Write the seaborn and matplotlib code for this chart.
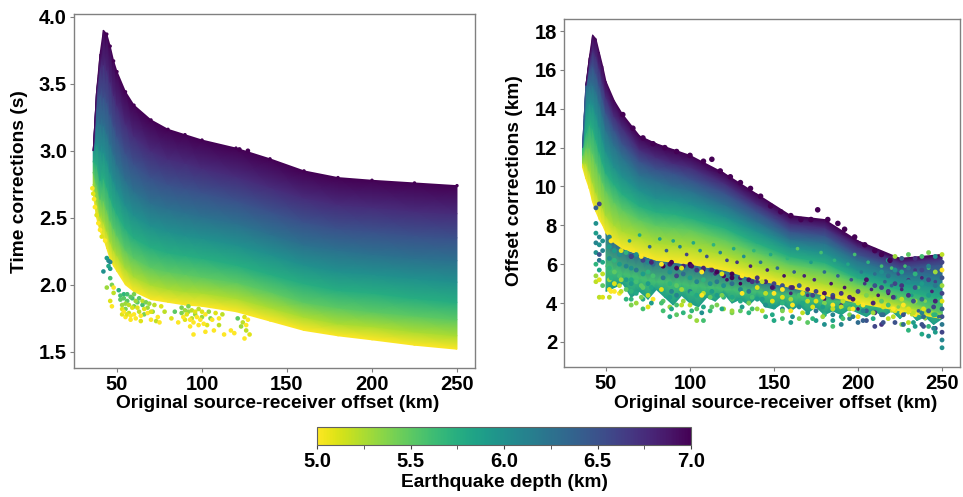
#!/usr/bin/env python3
"""
Time and offset corrections against source-receiver offset, coloured by depth
"""
import numpy as np
import pandas as pd
import seaborn as sns
import matplotlib.pyplot as plt
from matplotlib.cm import ScalarMappable
from matplotlib.colors import Normalize

depths = [5.0, 5.25, 5.5, 5.75, 6.0, 6.25, 6.5, 6.75, 7.0]
offsets = [36, 38, 40, 42, 44, 46, 48, 50, 55, 60, 70, 80, 90, 100, 120, 140, 160, 180, 200, 225, 250]

# one row per depth
time_rows = [
    [2.68, 2.50, 2.40, 2.35, 2.27, 2.19, 2.14, 2.10, 2.00, 1.95, 1.89, 1.87, 1.85, 1.84, 1.80, 1.73, 1.66, 1.62, 1.59, 1.55, 1.52],
    [2.75, 2.62, 2.51, 2.47, 2.40, 2.32, 2.26, 2.22, 2.12, 2.06, 2.00, 1.97, 1.95, 1.94, 1.90, 1.83, 1.76, 1.71, 1.69, 1.65, 1.62],
    [2.84, 2.75, 2.64, 2.63, 2.56, 2.48, 2.42, 2.37, 2.26, 2.20, 2.13, 2.10, 2.08, 2.06, 2.02, 1.95, 1.87, 1.83, 1.80, 1.77, 1.74],
    [2.92, 2.90, 2.78, 2.80, 2.73, 2.65, 2.58, 2.53, 2.42, 2.35, 2.28, 2.24, 2.22, 2.20, 2.15, 2.08, 2.01, 1.96, 1.94, 1.90, 1.87],
    [3.00, 3.05, 3.00, 2.99, 2.93, 2.84, 2.77, 2.71, 2.59, 2.52, 2.44, 2.40, 2.37, 2.35, 2.30, 2.23, 2.15, 2.10, 2.08, 2.05, 2.02],
    [3.00, 3.22, 3.20, 3.19, 3.13, 3.05, 2.97, 2.90, 2.78, 2.70, 2.61, 2.57, 2.54, 2.51, 2.46, 2.38, 2.30, 2.26, 2.23, 2.20, 2.18],
    [3.00, 3.38, 3.42, 3.40, 3.36, 3.27, 3.18, 3.11, 2.98, 2.90, 2.80, 2.75, 2.72, 2.69, 2.63, 2.55, 2.47, 2.42, 2.40, 2.37, 2.35],
    [3.00, 3.45, 3.62, 3.64, 3.60, 3.51, 3.41, 3.34, 3.20, 3.11, 3.00, 2.94, 2.91, 2.87, 2.81, 2.73, 2.65, 2.60, 2.58, 2.55, 2.53],
    [3.00, 3.45, 3.72, 3.90, 3.87, 3.78, 3.67, 3.59, 3.44, 3.34, 3.23, 3.16, 3.12, 3.08, 3.02, 2.94, 2.85, 2.80, 2.78, 2.76, 2.74],
]

# same layout, right panel
offset_rows = [
    [11.0, 10.4, 9.9, 9.2, 8.7, 8.3, 8.0, 7.6, 7.1, 6.8, 6.5, 6.2, 6.1, 6.0, 5.7, 5.2, 4.8, 4.4, 4.0, 3.6, 3.2],
    [11.2, 11.2, 10.8, 10.2, 9.7, 9.3, 8.9, 8.5, 8.0, 7.7, 7.4, 7.1, 7.0, 6.9, 6.5, 5.9, 5.4, 5.0, 4.5, 3.9, 3.3],
    [11.6, 12.0, 12.0, 11.7, 11.2, 10.7, 10.2, 9.8, 9.2, 8.8, 8.3, 8.0, 7.9, 7.8, 7.3, 6.6, 6.0, 5.7, 5.0, 4.3, 3.5],
    [12.0, 12.8, 13.2, 13.0, 12.4, 11.8, 11.2, 10.7, 10.1, 9.6, 9.0, 8.7, 8.6, 8.4, 7.9, 7.1, 6.4, 6.1, 5.3, 4.7, 4.2],
    [12.0, 14.0, 14.3, 14.2, 13.7, 13.1, 12.4, 11.8, 11.0, 10.5, 9.8, 9.4, 9.3, 9.1, 8.5, 7.7, 6.9, 6.6, 5.7, 5.1, 4.8],
    [12.0, 15.0, 15.2, 15.2, 14.9, 14.3, 13.6, 12.9, 12.1, 11.5, 10.6, 10.3, 10.0, 9.8, 9.1, 8.2, 7.3, 7.1, 6.2, 5.5, 5.4],
    [12.0, 15.2, 16.0, 16.2, 15.8, 15.2, 14.5, 13.8, 12.9, 12.2, 11.3, 10.9, 10.7, 10.4, 9.7, 8.7, 7.7, 7.5, 6.5, 5.8, 6.0],
    [12.0, 15.2, 16.4, 17.0, 16.7, 16.1, 15.3, 14.6, 13.6, 13.0, 11.9, 11.5, 11.2, 11.0, 10.2, 9.1, 8.1, 7.9, 6.9, 6.1, 6.3],
    [12.0, 15.2, 16.6, 17.8, 17.6, 16.9, 16.2, 15.4, 14.4, 13.7, 12.6, 12.2, 11.9, 11.6, 10.7, 9.6, 8.5, 8.3, 7.2, 6.3, 6.5],
]

# mottled band under the main cloud in the right panel
under_depths = [5.9, 5.6, 6.3]
under_offsets = [50, 55, 60, 65, 70, 75, 80, 85, 90, 95, 100, 105, 110, 115, 120, 125, 130, 135, 140, 145, 150,
                 155, 160, 165, 170, 175, 180, 185, 190, 195, 200, 205, 210, 215, 220, 225, 230, 235, 240, 245, 250]
under_rows = [
    [4.6, 4.8, 5.0, 4.3, 4.6, 4.2, 4.7, 4.3, 3.9, 4.4, 4.0, 3.8, 4.3, 4.1, 4.5, 4.0, 4.2, 3.9, 4.3, 3.8, 3.7,
     4.0, 3.6, 3.9, 3.5, 3.8, 3.4, 3.6, 3.4, 3.7, 3.5, 3.3, 3.6, 3.3, 3.6, 3.2, 3.6, 3.1, 3.3, 2.9, 3.2],
    [5.9, 5.7, 5.5, 5.4, 5.3, 5.2, 5.1, 5.1, 5.0, 5.0, 4.9, 4.9, 4.8, 4.8, 4.7, 4.7, 4.6, 4.6, 4.6, 4.5, 4.5,
     4.4, 4.4, 4.3, 4.3, 4.2, 4.2, 4.1, 4.1, 4.0, 4.0, 4.0, 3.9, 3.9, 3.9, 3.8, 3.8, 3.8, 3.8, 3.8, 3.8],
    [7.6, 7.1, 6.8, 6.6, 6.5, 6.3, 6.2, 6.2, 6.1, 6.0, 6.0, 5.9, 5.8, 5.8, 5.7, 5.6, 5.5, 5.4, 5.2, 5.1, 5.0,
     4.9, 4.9, 4.8, 4.7, 4.7, 4.5, 4.4, 4.3, 4.2, 4.1, 4.1, 4.0, 4.0, 4.0, 4.0, 4.0, 4.0, 4.0, 4.0, 4.0],
]

# scattered points around the left cloud
stray_x = [35.5, 36, 36.5, 37, 38, 39, 40, 41, 43, 44, 45, 45, 46, 46, 42, 46, 47, 48, 48, 44, 46, 47, 51, 52, 53, 53, 54, 55, 55, 56, 57, 58,
           59, 60, 61, 62, 63, 64, 65, 66, 68, 70, 71, 73, 75, 78, 82, 84, 86, 88, 90, 92, 93, 94, 95, 96, 98, 100, 102, 103, 105, 107, 110, 113, 117, 121, 123, 125, 126, 128, 119, 122, 127,
           52, 53, 54, 54, 55, 56, 56, 57, 58, 58, 59, 60, 60, 61, 62, 63, 64, 65, 66, 67, 68, 69, 70, 72, 74, 76,
           88, 89, 90, 91, 92, 93, 94, 95, 96, 97, 98, 99, 100, 101, 102, 104, 106, 108, 110, 112, 124, 125, 126, 127]
stray_y = [2.72, 2.68, 2.64, 2.58, 2.52, 2.46, 2.41, 2.36, 2.33, 2.2, 2.18, 2.14, 2.17, 2.12, 2.1, 2.05, 2.0, 1.98, 1.94, 1.98, 1.88, 1.84, 1.96, 1.89, 1.85, 1.78, 1.93, 1.82, 1.76, 1.88, 1.79, 1.74,
           1.9, 1.84, 1.75, 1.87, 1.8, 1.73, 1.85, 1.78, 1.83, 1.74, 1.8, 1.73, 1.72, 1.8, 1.75, 1.8, 1.72, 1.79, 1.74, 1.8, 1.69, 1.75, 1.63, 1.78, 1.7, 1.76, 1.65, 1.7, 1.75, 1.66, 1.7, 1.63, 1.66, 1.75, 1.69, 1.6, 1.66, 1.63, 1.64, 3.01, 3.0,
           1.92, 1.82, 1.9, 1.8, 1.86, 1.93, 1.78, 1.85, 1.91, 1.77, 1.83, 1.93, 1.78, 1.88, 1.83, 1.9, 1.77, 1.88, 1.82, 1.87, 1.79, 1.86, 1.8, 1.85, 1.76, 1.84,
           1.83, 1.76, 1.81, 1.78, 1.84, 1.74, 1.81, 1.72, 1.8, 1.76, 1.82, 1.74, 1.8, 1.71, 1.78, 1.8, 1.74, 1.79, 1.75, 1.78, 1.72, 1.76, 1.7, 1.74]
stray_d = [5.0, 5.1, 5.0, 5.0, 5.1, 5.0, 5.0, 5.1, 5.0, 5.9, 6.0, 5.8, 6.1, 5.9, 6.0, 5.6, 5.4, 5.0, 5.2, 5.3, 5.1, 5.0, 5.7, 5.5, 5.3, 5.1, 5.7, 5.4, 5.0, 5.5, 5.2, 5.0,
           5.6, 5.4, 5.0, 5.5, 5.2, 5.1, 5.6, 5.4, 5.3, 5.0, 5.3, 5.2, 5.0, 5.2, 5.1, 5.5, 5.0, 5.4, 5.1, 5.3, 5.0, 5.2, 5.0, 5.3, 5.0, 5.3, 5.0, 5.1, 5.4, 5.0, 5.2, 5.0, 5.0, 5.5, 5.3, 5.0, 5.2, 5.1, 5.0, 7.0, 7.0,
           5.6, 5.1, 5.5, 5.0, 5.3, 5.6, 5.1, 5.2, 5.5, 5.0, 5.1, 5.4, 5.0, 5.3, 5.1, 5.5, 5.0, 5.2, 5.1, 5.4, 5.0, 5.3, 5.1, 5.2, 5.0, 5.1,
           5.4, 5.0, 5.3, 5.1, 5.4, 5.0, 5.2, 5.0, 5.1, 5.0, 5.2, 5.0, 5.1, 5.0, 5.0, 5.3, 5.0, 5.1, 5.0, 5.2, 5.2, 5.1, 5.0, 5.0]

# columns of points in the lower right cloud, one list of values per offset
cloud_x = [44, 46, 48, 52, 55, 58, 62, 65, 68, 72, 75, 78, 84, 88, 92, 96, 100, 104, 108, 112, 116, 120, 125, 130, 135, 140, 145, 150, 155, 160, 165,
           170, 175, 180, 185, 190, 195, 200, 205, 210, 214, 218, 222, 226, 230, 234, 238, 242, 246, 250]
cloud_y = [
    [8.9, 8.1, 7.6, 7.1, 6.6, 6.0, 5.4, 5.1],
    [9.1, 7.4, 7.0, 6.5, 6.2, 5.7, 5.2, 4.3],
    [7.2, 6.7, 6.1, 5.5, 4.9, 4.3],
    [7.4, 6.9, 6.3, 5.8, 5.2, 4.7, 4.3],
    [6.7, 6.2, 5.6, 5.0, 4.6],
    [6.5, 6.0, 5.4, 4.9, 4.5],
    [6.6, 5.9, 5.2, 4.7, 4.2],
    [6.4, 5.8, 5.2, 4.6, 3.9],
    [6.5, 5.7, 5.1, 4.5, 4.0],
    [6.2, 5.5, 4.8, 4.2, 3.7],
    [6.1, 5.6, 5.0, 4.4, 3.8],
    [6.0, 5.4, 4.7, 4.2],
    [5.9, 5.3, 4.6, 4.1, 3.6],
    [6.0, 5.6, 5.0, 4.3, 3.8, 3.3],
    [5.8, 5.4, 4.9, 4.4, 3.9, 3.4],
    [5.9, 5.5, 4.7, 4.1, 3.5],
    [6.0, 5.3, 4.6, 3.9, 3.3],
    [5.7, 5.1, 4.4, 3.7, 3.1],
    [5.8, 5.2, 4.5, 3.8, 3.1],
    [5.7, 5.0, 4.3, 3.6],
    [5.6, 5.1, 4.4, 3.9],
    [5.4, 4.9, 4.3, 3.7],
    [5.5, 5.0, 4.2, 3.5],
    [5.3, 4.7, 4.1, 3.6],
    [5.2, 4.6, 4.0, 3.5],
    [5.3, 4.8, 4.2, 3.7],
    [5.1, 4.5, 3.9, 3.3],
    [5.0, 4.5, 3.8, 3.1],
    [4.9, 4.3, 3.7, 3.2],
    [4.8, 4.2, 3.6, 3.0],
    [4.9, 4.4, 3.8, 3.2],
    [4.7, 4.1, 3.5, 3.0],
    [4.6, 4.1, 3.6, 3.1],
    [4.5, 4.0, 3.4, 2.9],
    [4.4, 3.9, 3.4, 2.8],
    [4.5, 3.8, 3.3, 2.9],
    [4.3, 3.7, 3.2, 3.4],
    [4.6, 4.0, 3.3, 3.0],
    [5.2, 4.4, 3.6, 3.1],
    [4.9, 4.2, 3.5, 2.8],
    [5.6, 4.8, 4.1, 3.4, 2.9],
    [6.2, 5.4, 4.6, 3.9, 3.2],
    [6.4, 5.7, 5.0, 4.3, 3.6, 3.0],
    [6.3, 5.6, 4.9, 4.2, 3.5, 2.9],
    [6.5, 5.8, 5.1, 4.4, 3.7, 3.0, 2.6],
    [6.3, 5.5, 4.8, 4.1, 3.4, 2.8],
    [6.4, 5.7, 5.0, 4.2, 3.5, 2.9, 2.4],
    [6.6, 5.9, 5.2, 4.4, 3.6, 2.8, 2.3],
    [6.4, 5.6, 4.9, 4.1, 3.4, 2.7, 2.5],
    [6.5, 6.1, 5.7, 5.3, 4.9, 4.5, 4.1, 3.7, 3.3, 2.9, 2.5, 2.1, 1.7],
]
cloud_d = [
    [6.4, 6.0, 5.9, 6.1, 6.0, 5.7, 5.3, 5.2],
    [6.6, 6.1, 6.0, 6.5, 6.2, 5.8, 5.1, 5.2],
    [6.0, 6.1, 5.8, 5.2, 5.5, 5.1],
    [6.1, 5.9, 6.0, 5.7, 5.3, 5.0, 5.2],
    [5.9, 5.7, 5.5, 5.1, 5.0],
    [6.0, 5.9, 5.6, 5.2, 5.0],
    [5.7, 6.1, 5.9, 5.5, 5.7],
    [6.7, 6.0, 5.8, 5.7, 5.4],
    [6.0, 6.2, 5.6, 5.8, 5.3],
    [6.6, 5.9, 5.5, 5.8, 5.6],
    [6.1, 5.7, 5.9, 5.2, 5.1],
    [6.3, 5.6, 5.9, 5.0],
    [7.0, 6.2, 5.8, 5.5, 5.6],
    [6.9, 6.0, 5.7, 5.9, 5.3, 5.8],
    [7.0, 6.6, 5.5, 6.1, 5.6, 5.5],
    [6.8, 6.3, 5.6, 5.3, 5.7],
    [7.0, 5.9, 6.1, 5.2, 5.4],
    [6.7, 6.1, 5.8, 5.5, 5.3],
    [6.8, 5.7, 5.2, 5.8, 5.6],
    [6.4, 6.0, 5.5, 5.7],
    [7.0, 6.2, 5.9, 5.4],
    [6.9, 6.0, 5.7, 5.3],
    [7.0, 6.3, 5.6, 5.4],
    [6.8, 6.1, 5.8, 5.5],
    [6.9, 6.2, 5.4, 5.7],
    [6.7, 5.1, 5.9, 5.3],
    [6.8, 5.2, 6.0, 5.7],
    [6.6, 5.0, 5.9, 5.8],
    [6.5, 5.1, 6.1, 5.6],
    [6.7, 5.3, 5.0, 5.9],
    [6.4, 5.6, 6.0, 5.4],
    [6.8, 5.2, 5.9, 5.5],
    [6.6, 5.1, 6.2, 5.9],
    [6.9, 5.4, 5.7, 6.0],
    [6.5, 5.0, 6.1, 5.6],
    [6.7, 5.2, 5.9, 6.1],
    [6.8, 5.3, 6.2, 5.4],
    [6.6, 5.1, 5.0, 6.3],
    [6.9, 5.4, 6.4, 6.5],
    [6.5, 5.2, 6.7, 6.6],
    [6.0, 6.6, 5.5, 6.3, 6.7],
    [5.9, 6.3, 6.7, 5.6, 5.2],
    [5.3, 6.0, 6.6, 5.7, 5.1, 6.5],
    [6.4, 5.8, 6.7, 5.2, 5.0, 5.4],
    [5.5, 6.3, 6.0, 6.7, 5.1, 5.2, 5.7],
    [6.7, 5.7, 6.5, 5.3, 5.0, 5.9],
    [5.6, 6.6, 5.9, 6.3, 6.1, 6.5, 5.8],
    [5.4, 6.1, 6.6, 5.9, 6.4, 5.7, 6.0],
    [6.0, 5.3, 6.2, 6.8, 5.7, 6.5, 5.9],
    [5.2, 6.6, 5.0, 6.5, 5.3, 6.6, 5.1, 6.4, 6.5, 6.2, 6.6, 6.1, 6.0],
]

# three more rows of points along the lower part of the right panel cloud
fringe_x = [53, 59, 65, 71, 77, 83, 89, 95, 101, 107, 113, 119, 125, 131, 137, 143, 149, 155, 161, 167, 173, 179, 185, 191, 197, 203, 209, 215, 221, 227, 233, 239, 245]
fringe_y = [
    [7.2, 6.7, 6.4, 6.4, 6.1, 6.0, 6.1, 5.8, 5.9, 5.6, 5.7, 5.5, 5.3, 5.4, 5.1, 5.1, 4.8, 4.7, 4.8, 4.5, 4.4, 4.3, 4.3, 4.1, 4.2, 3.9, 4.0, 3.8, 4.3, 3.9, 4.1, 3.7, 3.8],
    [5.3, 5.2, 5.0, 4.9, 4.8, 4.7, 4.6, 4.7, 4.5, 4.4, 4.6, 4.4, 4.3, 4.5, 4.3, 4.2, 4.1, 4.0, 3.9, 4.0, 3.8, 3.8, 3.7, 3.6, 3.7, 3.6, 3.5, 3.4, 3.7, 3.4, 3.5, 3.3, 3.4],
    [4.6, 4.6, 4.2, 4.3, 4.0, 4.0, 3.7, 3.9, 3.6, 3.5, 3.8, 3.7, 3.6, 3.8, 3.7, 3.6, 3.4, 3.6, 3.3, 3.5, 3.2, 3.3, 3.1, 3.2, 3.3, 3.1, 3.2, 3.0, 3.3, 2.9, 3.0, 2.8, 2.7],
]
fringe_d = [
    [5.0, 5.1, 6.6, 5.0, 6.8, 5.0, 7.0, 5.1, 6.9, 5.0, 6.8, 5.1, 7.0, 5.0, 6.7, 5.2, 6.9, 5.0, 6.8, 5.1, 6.6, 5.0, 6.7, 5.2, 6.9, 5.0, 6.8, 5.1, 6.7, 5.0, 6.5, 5.1, 6.6],
    [5.7, 5.3, 5.9, 5.5, 5.8, 5.1, 6.1, 5.3, 5.7, 5.0, 5.9, 5.4, 5.8, 5.0, 5.6, 5.9, 5.1, 5.7, 5.0, 5.8, 5.1, 5.9, 5.2, 5.8, 5.0, 6.1, 5.3, 6.3, 5.0, 6.5, 5.2, 6.3, 5.7],
    [5.0, 5.2, 5.7, 5.4, 5.9, 5.6, 5.8, 5.2, 5.7, 6.0, 5.5, 5.8, 5.3, 5.9, 5.6, 5.2, 5.8, 5.4, 6.0, 5.2, 5.7, 5.3, 5.9, 5.6, 6.2, 6.4, 5.8, 6.5, 5.2, 6.3, 5.9, 6.5, 6.1],
]

# finer speckle inside the right panel cloud
speck_x = [64, 70, 76, 82, 86, 90, 94, 98, 102, 106, 110, 114, 118, 122, 126, 128, 132, 136, 138, 142, 146, 148, 152, 156, 158, 162, 164, 168, 172, 174, 178,
           180, 184, 186, 188, 192, 194, 196, 198, 200, 202, 204, 206, 208, 210, 212, 214, 216, 218, 220, 220, 222, 224, 224, 226, 228, 228, 230, 232, 232, 234, 236, 236, 238, 240, 240, 242, 244, 244, 246, 248, 248,
           100, 108, 115, 122, 130, 140, 150, 160, 170, 180, 190, 200, 210, 220, 230, 240]
speck_y = [7.2, 7.5, 6.9, 7.3, 6.7, 7.2, 6.9, 6.5, 7.1, 6.7, 6.4, 7.0, 6.6, 6.2, 6.8, 6.1, 6.4, 5.9, 6.7, 6.1, 5.7, 6.5, 5.8, 5.4, 6.3, 5.6, 6.8, 5.4, 6.1, 5.2, 6.6,
           5.6, 5.0, 6.2, 5.4, 4.8, 6.0, 5.2, 6.5, 4.6, 5.6, 5.0, 6.1, 4.7, 5.5, 4.4, 5.9, 5.1, 4.5, 5.8, 4.9, 4.3, 5.5, 3.8, 4.7, 5.9, 3.9, 5.2, 4.4, 3.4, 5.7, 4.8, 3.6, 5.3, 4.1, 3.2, 5.8, 4.6, 3.5, 5.1, 4.2, 3.3,
           5.9, 5.7, 5.5, 5.2, 5.0, 5.1, 4.8, 4.5, 4.4, 4.2, 3.9, 3.7, 3.5, 3.6, 3.5, 3.2]
speck_d = [5.9, 5.8, 6.3, 5.9, 6.4, 5.8, 6.1, 6.6, 5.8, 6.0, 6.5, 5.7, 6.1, 6.6, 5.8, 6.7, 6.0, 6.8, 5.7, 6.2, 6.8, 5.8, 6.3, 6.9, 5.7, 6.4, 5.5, 6.8, 5.9, 6.8, 5.6,
           6.3, 6.9, 5.7, 6.4, 6.9, 5.8, 6.5, 5.6, 6.9, 6.2, 6.7, 5.7, 6.8, 6.3, 6.9, 5.6, 6.4, 6.9, 5.6, 6.4, 6.9, 6.6, 5.4, 6.8, 5.6, 5.3, 6.7, 5.9, 5.2, 6.7, 5.6, 6.4, 6.8, 5.4, 6.1, 5.6, 6.8, 5.3, 6.6, 5.7, 6.3,
           6.9, 7.0, 6.8, 6.9, 7.0, 6.7, 6.6, 6.8, 6.7, 6.9, 6.8, 6.9, 6.5, 5.2, 5.1, 5.3]

# bumps on the upper edge of the right panel cloud
edge_x = [60, 66, 72, 78, 85, 92, 100, 108, 113, 118, 124, 130, 136, 142, 148, 154, 160, 166, 172, 176, 182, 188, 192, 198, 204, 210, 214, 219]
edge_y = [13.7, 13.0, 12.5, 12.2, 12.0, 11.8, 11.6, 11.3, 11.4, 10.8, 10.5, 10.2, 9.9, 9.5, 9.0, 8.7, 8.5, 8.3, 8.3, 8.8, 8.3, 8.1, 7.8, 7.4, 7.0, 6.7, 6.5, 6.2]

FONT = ['Liberation Sans', 'DejaVu Sans']
CMAP = 'viridis_r'
SPINE = '#808080'
LABEL_SIZE = 13.8
TICK_SIZE = 14.5


def draw_cloud(ax, xs, table, levels, norm, zorder=1):
    X = np.tile(xs, (len(levels), 1))
    C = np.tile(np.array(levels)[:, None], (1, len(xs)))
    ax.pcolormesh(X, np.array(table), C, shading='gouraud', cmap=CMAP, norm=norm, zorder=zorder)


def draw_points(ax, x, y, d, size, zorder=3):
    df = pd.DataFrame({'x': x, 'y': y, 'depth': d})
    sns.scatterplot(data=df, x='x', y='y', hue='depth', hue_norm=(5, 7), palette=CMAP,
                    s=size, linewidth=0, legend=False, ax=ax, zorder=zorder)


def style_axes(ax, ylabel, xlim, ylim):
    ax.set_xlim(xlim)
    ax.set_ylim(ylim)
    ax.set_xticks([50, 100, 150, 200, 250])
    ax.set_xlabel('Original source-receiver offset (km)', fontsize=LABEL_SIZE, fontweight='bold')
    ax.set_ylabel(ylabel, fontsize=LABEL_SIZE, fontweight='bold')
    ax.tick_params(axis='both', labelsize=TICK_SIZE, length=3, color=SPINE, labelcolor='black', pad=2, bottom=True, left=True)
    for label in ax.get_xticklabels() + ax.get_yticklabels():
        label.set_fontweight('bold')
    for spine in ax.spines.values():
        spine.set_color(SPINE)
        spine.set_linewidth(1.0)


sns.set_style('white')
plt.rcParams['font.family'] = FONT
plt.rcParams['text.color'] = 'black'
plt.rcParams['axes.labelcolor'] = 'black'

norm = Normalize(5, 7)
W, H = 963, 497
fig = plt.figure(figsize=(W / 100, H / 100), dpi=100)
ax1 = fig.add_axes([74 / W, (H - 368) / H, 401 / W, 354 / H])
ax2 = fig.add_axes([564 / W, (H - 367) / H, 396 / W, 348 / H])
cax = fig.add_axes([317 / W, (H - 445) / H, 374 / W, 18 / H])

draw_cloud(ax1, offsets, time_rows, depths, norm)
draw_points(ax1, stray_x, stray_y, stray_d, 11)
draw_points(ax1, offsets[4:], time_rows[-1][4:], [7.0] * len(offsets[4:]), 6)
style_axes(ax1, 'Time corrections (s)', (24.7, 260.6), (1.38, 4.02))
ax1.set_yticks([1.5, 2.0, 2.5, 3.0, 3.5, 4.0])
ax1.xaxis.set_label_coords(0.5075, -0.076)
ax1.yaxis.set_label_coords(-0.115, 0.528)

cloud_xs = [x for x, col in zip(cloud_x, cloud_y) for _ in col] + fringe_x * len(fringe_y)
cloud_ys = [v for col in cloud_y for v in col] + [v for row in fringe_y for v in row]
cloud_ds = [v for col in cloud_d for v in col] + [v for row in fringe_d for v in row]

draw_cloud(ax2, under_offsets, under_rows, under_depths, norm, zorder=1)
draw_cloud(ax2, offsets, offset_rows, depths, norm, zorder=2)
draw_points(ax2, speck_x, speck_y, speck_d, 7)
draw_points(ax2, cloud_xs, cloud_ys, cloud_ds, 12)
draw_points(ax2, edge_x, edge_y, [7.0] * len(edge_x), 16)
style_axes(ax2, 'Offset corrections (km)', (25, 260.7), (0.71, 18.62))
ax2.set_yticks([2, 4, 6, 8, 10, 12, 14, 16, 18])
ax2.xaxis.set_label_coords(0.535, -0.08)
ax2.yaxis.set_label_coords(-0.104, 0.537)

cb = fig.colorbar(ScalarMappable(norm=norm, cmap=CMAP), cax=cax, orientation='horizontal')
cb.set_ticks([5.0, 5.5, 6.0, 6.5, 7.0])
cb.set_ticks([5.25, 5.75, 6.25, 6.75], minor=True)
cb.set_label('Earthquake depth (km)', fontsize=LABEL_SIZE, fontweight='bold', labelpad=2)
cb.ax.tick_params(which='both', labelsize=TICK_SIZE, length=3, color='#404040', labelcolor='black', pad=2, bottom=True)
for label in cb.ax.get_xticklabels():
    label.set_fontweight('bold')
cb.outline.set_edgecolor('#606060')

fig.savefig('out.png', dpi=100)
